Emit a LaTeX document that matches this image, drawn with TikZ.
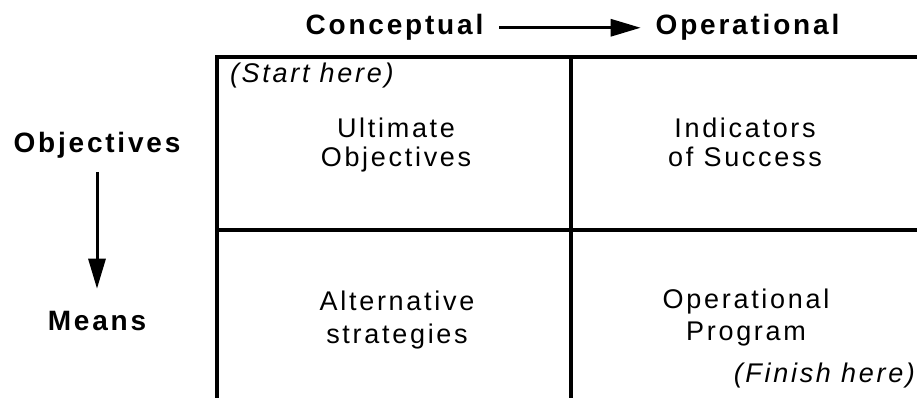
\documentclass[tikz,border=0pt]{standalone}
\usepackage{fontspec}
\setmainfont{Liberation Sans}[LetterSpace=10]
\usetikzlibrary{arrows.meta}
\tikzset{
  lbl/.style={inner sep=0pt, outer sep=0pt, anchor=base, font=\fontsize{27}{29}\selectfont},
  hdr/.style={inner sep=0pt, outer sep=0pt, anchor=base, font=\fontsize{28}{30}\selectfont\bfseries},
  note/.style={inner sep=0pt, outer sep=0pt, font=\fontsize{27}{29}\selectfont\itshape},
  grid/.style={line width=3.5pt, line cap=rect},
  flow/.style={line width=3pt, -{Triangle[length=30pt,width=17pt]}}
}
\begin{document}
\begin{tikzpicture}[x=1pt,y=-1pt]
\useasboundingbox (0,0) rectangle (917,398);
% table lines
\draw[grid] (217,57) -- (919,57);
\draw[grid] (217,57) -- (217,400);
\draw[grid] (571,57) -- (571,400);
\draw[grid] (217,230) -- (919,230);
% headers
\node[hdr] (conc) at (394.5,35) {Conceptual};
\node[hdr] (opert) at (747.5,35) {Operational};
\node[hdr] (objl) at (97,153) {Objectives};
\node[hdr] (means) at (97,330) {Means};
\draw[flow, shorten <=16pt, shorten >=15pt] (conc.east) -- (opert.west);
\draw[flow] ([yshift=-13pt]objl.south) -- ([yshift=22pt]objl.south |- means.north);
% cells
\node[note, anchor=base west] (start) at (230,83) {(Start here)};
\node[lbl] (ult1) at (396,138) {Ultimate};
\node[lbl] (ult2) at (396,167) {Objectives};
\node[lbl] (ind1) at (745,138) {Indicators};
\node[lbl] (ind2) at (745,167) {of Success};
\node[lbl] (alt1) at (397,310) {Alternative};
\node[lbl] (alt2) at (397,343) {strategies};
\node[lbl] (op1) at (746,308) {Operational};
\node[lbl] (op2) at (746,340) {Program};
\node[note, anchor=base east] (finish) at (915,382) {(Finish here)};
\end{tikzpicture}
\end{document}
